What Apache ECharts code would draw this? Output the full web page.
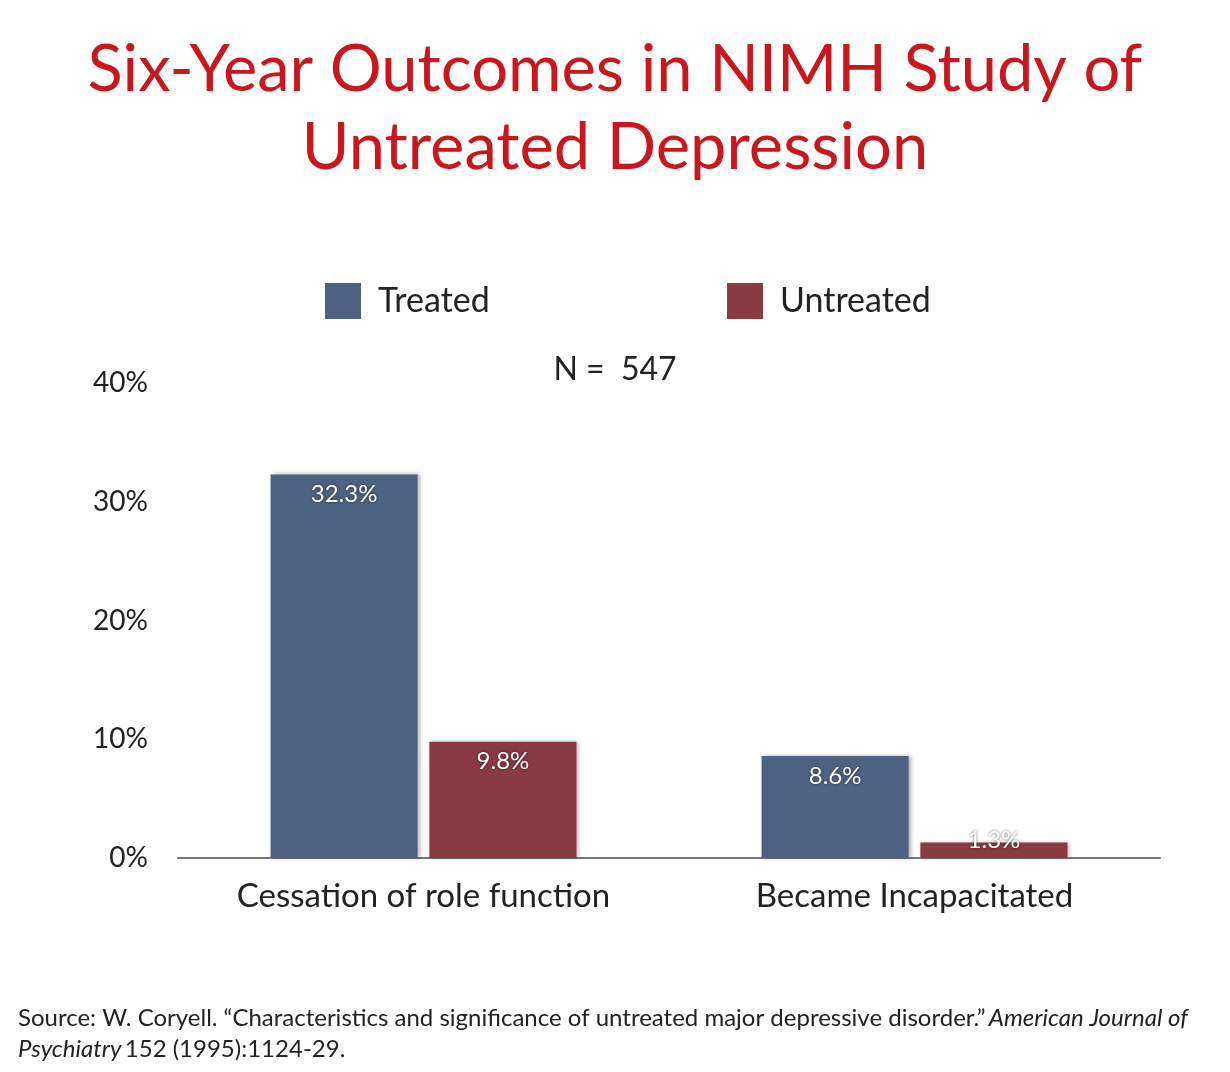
<!DOCTYPE html>
<html lang="en">
<head>
    <meta charset="UTF-8">
    <title>Six-Year Outcomes in NIMH Study of Untreated Depression</title>
    <style>
        * { margin: 0; padding: 0; }
        #main { width: 1230px; height: 1072px; background: #fff; }
    </style>
    <script src="https://cdn.jsdelivr.net/npm/echarts@6/dist/echarts.min.js"></script>
</head>
<body>
    <div id="main"></div>
    <script>
        // data
        var categories = ['Cessation of role function', 'Became Incapacitated'];
        var treated = [32.3, 8.6];
        var untreated = [9.8, 1.3];
        var seriesNames = ['Treated', 'Untreated'];
        var yTicks = [0, 10, 20, 30, 40];

        var FONT = 'Lato';
        var colors = ['#4e6383', '#8a3a42'];

        var chart = echarts.init(document.getElementById('main'));

        function barData(values) {
            return values.map(function (v) {
                // tiny bars: let the label sit over the bar top
                if (v < 3) {
                    return { value: v, label: { position: 'top', distance: -10 } };
                }
                return v;
            });
        }

        var barLabel = {
            show: true,
            position: 'insideTop',
            distance: 8,
            color: '#fff',
            fontFamily: FONT,
            fontSize: 24,
            textShadowColor: 'rgba(0,0,0,0.6)',
            textShadowBlur: 3,
            formatter: function (p) { return p.value + '%'; }
        };

        var legendText = { fontFamily: FONT, fontSize: 34, color: '#222', padding: [0, 0, 0, 12] };

        var option = {
            backgroundColor: '#fff',
            title: {
                text: 'Six-Year Outcomes in NIMH Study of\nUntreated Depression',
                left: 'center',
                top: 26,
                textStyle: {
                    color: '#c8171e',
                    fontFamily: FONT,
                    fontWeight: 'normal',
                    fontSize: 65,
                    lineHeight: 78
                }
            },
            legend: [
                {
                    data: [seriesNames[0]],
                    left: 320, top: 278,
                    icon: 'rect', itemWidth: 36, itemHeight: 36, itemGap: 26,
                    textStyle: legendText
                },
                {
                    data: [seriesNames[1]],
                    left: 722, top: 278,
                    icon: 'rect', itemWidth: 36, itemHeight: 36, itemGap: 26,
                    textStyle: legendText
                }
            ],
            grid: { left: 178, right: 70, top: 383, bottom: 214 },
            xAxis: {
                type: 'category',
                data: categories,
                axisLine: { lineStyle: { color: '#777', width: 2 } },
                axisTick: { show: false },
                axisLabel: { fontFamily: FONT, fontSize: 33, color: '#222', margin: 22 }
            },
            yAxis: {
                type: 'value',
                min: yTicks[0],
                max: yTicks[yTicks.length - 1],
                interval: yTicks[1] - yTicks[0],
                splitLine: { show: false },
                axisLine: { show: false },
                axisTick: { show: false },
                axisLabel: {
                    fontFamily: FONT, fontSize: 28, color: '#222', margin: 30,
                    formatter: '{value}%'
                }
            },
            graphic: [
                {
                    type: 'text',
                    left: 'center',
                    top: 354,
                    style: { text: 'N =  547', fontFamily: FONT, fontSize: 32, fill: '#222' }
                },
                {
                    type: 'text',
                    left: 18,
                    top: 1006,
                    style: {
                        text: '{n|Source: W. Coryell. \u201cCharacteristics and significance of untreated major depressive disorder.\u201d} {i|American Journal of}\n{i|Psychiatry} {n|152 (1995):1124-29.}',
                        rich: {
                            n: { fontFamily: FONT, fontSize: 24, fill: '#222', lineHeight: 31 },
                            i: { fontFamily: FONT, fontSize: 24, fontStyle: 'italic', fill: '#222', lineHeight: 31 }
                        }
                    }
                }
            ],
            series: [
                {
                    name: seriesNames[0],
                    type: 'bar',
                    data: barData(treated),
                    barGap: '8%',
                    barCategoryGap: '37.7%',
                    itemStyle: { color: colors[0], shadowColor: 'rgba(0,0,0,0.3)', shadowBlur: 4, shadowOffsetX: 2 },
                    label: barLabel
                },
                {
                    name: seriesNames[1],
                    type: 'bar',
                    data: barData(untreated),
                    itemStyle: { color: colors[1], shadowColor: 'rgba(0,0,0,0.3)', shadowBlur: 4, shadowOffsetX: 2 },
                    label: barLabel
                }
            ]
        };
        chart.setOption(option);
    </script>
</body>
</html>
